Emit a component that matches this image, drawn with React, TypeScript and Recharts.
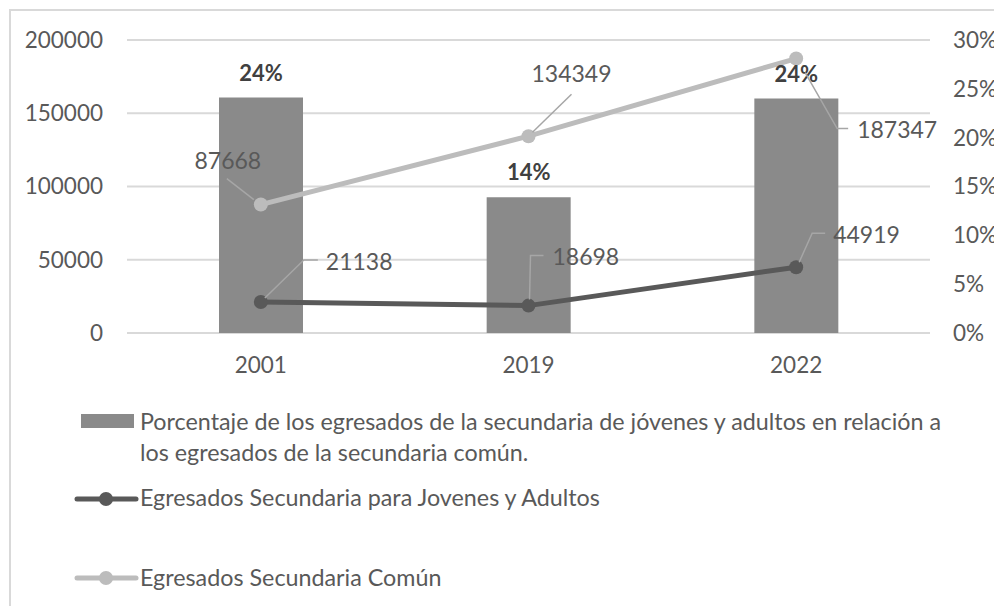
import React from 'react';
import {
  ComposedChart, Bar, Line, XAxis, YAxis, CartesianGrid, LabelList, Legend,
} from 'recharts';

// ---- data ----
const categories = ['2001', '2019', '2022'];
const porcentaje = [24.1, 13.9, 24.0];
const jovenesAdultos = [21138, 18698, 44919];
const comun = [87668, 134349, 187347];
const leftTicks = [0, 50000, 100000, 150000, 200000];
const rightTicks = [0, 5, 10, 15, 20, 25, 30];

const seriesNames = {
  porcentaje: ['Porcentaje de los egresados de la secundaria de jóvenes y adultos en relación a', 'los egresados de la secundaria común.'],
  jovenes: 'Egresados Secundaria para Jovenes y Adultos',
  comun: 'Egresados Secundaria Común',
};

const data = categories.map((c, i) => ({
  year: c,
  porcentaje: porcentaje[i],
  jovenes: jovenesAdultos[i],
  comun: comun[i],
}));

// ---- style ----
const FONT = 'Lato, "Open Sans", sans-serif';
const TEXT = '#595959';
const BAR = '#8a8a8a';
const DARK = '#595959';
const LIGHT = '#bcbcbc';
const GRID = '#d9d9d9';
const LEADER = '#a6a6a6';

// label placement relative to each point: text offset + leader polyline
type LabelLayout = { dx: number; dy: number; anchor: 'start' | 'middle' | 'end'; leader: [number, number][] };
const comunLabels: LabelLayout[] = [
  { dx: -33, dy: -44, anchor: 'middle', leader: [[-34, -26], [-7, -5]] },
  { dx: 43, dy: -62, anchor: 'middle', leader: [[43, -42], [4, -4]] },
  { dx: 61, dy: 71, anchor: 'start', leader: [[52, 70], [41, 70], [9, 14]] },
];
const jovenesLabels: LabelLayout[] = [
  { dx: 65, dy: -40, anchor: 'start', leader: [[57, -42], [43, -42], [4, -4]] },
  { dx: 24, dy: -49, anchor: 'start', leader: [[15, -50], [2, -50], [1, -6]] },
  { dx: 37, dy: -32, anchor: 'start', leader: [[29, -34], [16, -34], [3, -5]] },
];

const makeLeaderLabel = (layouts: LabelLayout[]) => (props: any) => {
  const { x, y, value, index } = props;
  const l = layouts[index];
  if (!l || x == null || y == null) return null;
  const pts = l.leader.map(([a, b]) => `${x + a},${y + b}`).join(' ');
  return (
    <g>
      <polyline points={pts} fill="none" stroke={LEADER} strokeWidth={1.5} />
      <text x={x + l.dx} y={y + l.dy} dy="0.35em" textAnchor={l.anchor} fontFamily={FONT} fontSize={23} fill={TEXT}>
        {value}
      </text>
    </g>
  );
};

const renderLegend = () => {
  const top = 390;
  return (
    <svg width={994} height={208} style={{ display: 'block' }}>
      <g fontFamily={FONT} fontSize={23.3} fill={TEXT}>
        <rect x={73} y={406 - top} width={53} height={14} fill={BAR} />
        <text x={132} y={414 - top} dy="0.35em">{seriesNames.porcentaje[0]}</text>
        <text x={132} y={445 - top} dy="0.35em">{seriesNames.porcentaje[1]}</text>

        <line x1={69} x2={128} y1={491 - top} y2={491 - top} stroke={DARK} strokeWidth={5} strokeLinecap="round" />
        <circle cx={98} cy={491 - top} r={7} fill={DARK} />
        <text x={132} y={490 - top} dy="0.35em">{seriesNames.jovenes}</text>

        <line x1={69} x2={128} y1={570 - top} y2={570 - top} stroke={LIGHT} strokeWidth={5} strokeLinecap="round" />
        <circle cx={98} cy={570 - top} r={7} fill={LIGHT} />
        <text x={132} y={570 - top} dy="0.35em">{seriesNames.comun}</text>
      </g>
    </svg>
  );
};

export default function App() {
  return (
    <div style={{ position: 'relative', width: 994, height: 598 }}>
      <div
        style={{
          position: 'absolute', left: 1, top: 1, width: 991, height: 595,
          borderLeft: `2px solid ${GRID}`, borderTop: `2px solid ${GRID}`, pointerEvents: 'none',
        }}
      />
      <ComposedChart
        width={994}
        height={598}
        data={data}
        margin={{ top: 32, right: 0, bottom: 213, left: 0 }}
        style={{ fontFamily: FONT }}
      >
        <CartesianGrid yAxisId="left" vertical={false} stroke={GRID} strokeWidth={2} />
        <XAxis
          dataKey="year"
          axisLine={false}
          tickLine={false}
          tickSize={0}
          tickMargin={24}
          height={60}
          tick={{ fill: TEXT, fontSize: 22.5, fontFamily: FONT }}
        />
        <YAxis
          yAxisId="left"
          orientation="left"
          domain={[0, 200000]}
          ticks={leftTicks}
          interval={0}
          width={119}
          axisLine={false}
          tickLine={false}
          tickSize={0}
          tickMargin={24}
          tick={{ fill: TEXT, fontSize: 22.5, fontFamily: FONT }}
        />
        <YAxis
          yAxisId="right"
          orientation="right"
          domain={[0, 30]}
          ticks={rightTicks}
          interval={0}
          width={72}
          axisLine={false}
          tickLine={false}
          tickSize={0}
          tickMargin={23}
          tickFormatter={(v: number) => `${v}%`}
          tick={{ fill: TEXT, fontSize: 22.5, fontFamily: FONT }}
        />
        <Bar yAxisId="right" dataKey="porcentaje" fill={BAR} barSize={84} isAnimationActive={false}>
          <LabelList
            dataKey="porcentaje"
            position="top"
            offset={17}
            formatter={(v: number) => `${Math.round(v)}%`}
            style={{ fill: '#404040', fontSize: 22, fontWeight: 700, fontFamily: FONT }}
          />
        </Bar>
        <Line
          yAxisId="left"
          dataKey="jovenes"
          stroke={DARK}
          strokeWidth={5}
          dot={{ r: 7, fill: DARK, stroke: DARK, strokeWidth: 0 }}
          activeDot={false}
          isAnimationActive={false}
        >
          <LabelList dataKey="jovenes" content={makeLeaderLabel(jovenesLabels)} />
        </Line>
        <Line
          yAxisId="left"
          dataKey="comun"
          stroke={LIGHT}
          strokeWidth={5}
          dot={{ r: 7, fill: LIGHT, stroke: LIGHT, strokeWidth: 0 }}
          activeDot={false}
          isAnimationActive={false}
        >
          <LabelList dataKey="comun" content={makeLeaderLabel(comunLabels)} />
        </Line>
        <Legend
          layout="vertical"
          align="center"
          verticalAlign="middle"
          wrapperStyle={{ left: 0, top: 390, width: 994, height: 208 }}
          content={renderLegend}
        />
      </ComposedChart>
    </div>
  );
}
